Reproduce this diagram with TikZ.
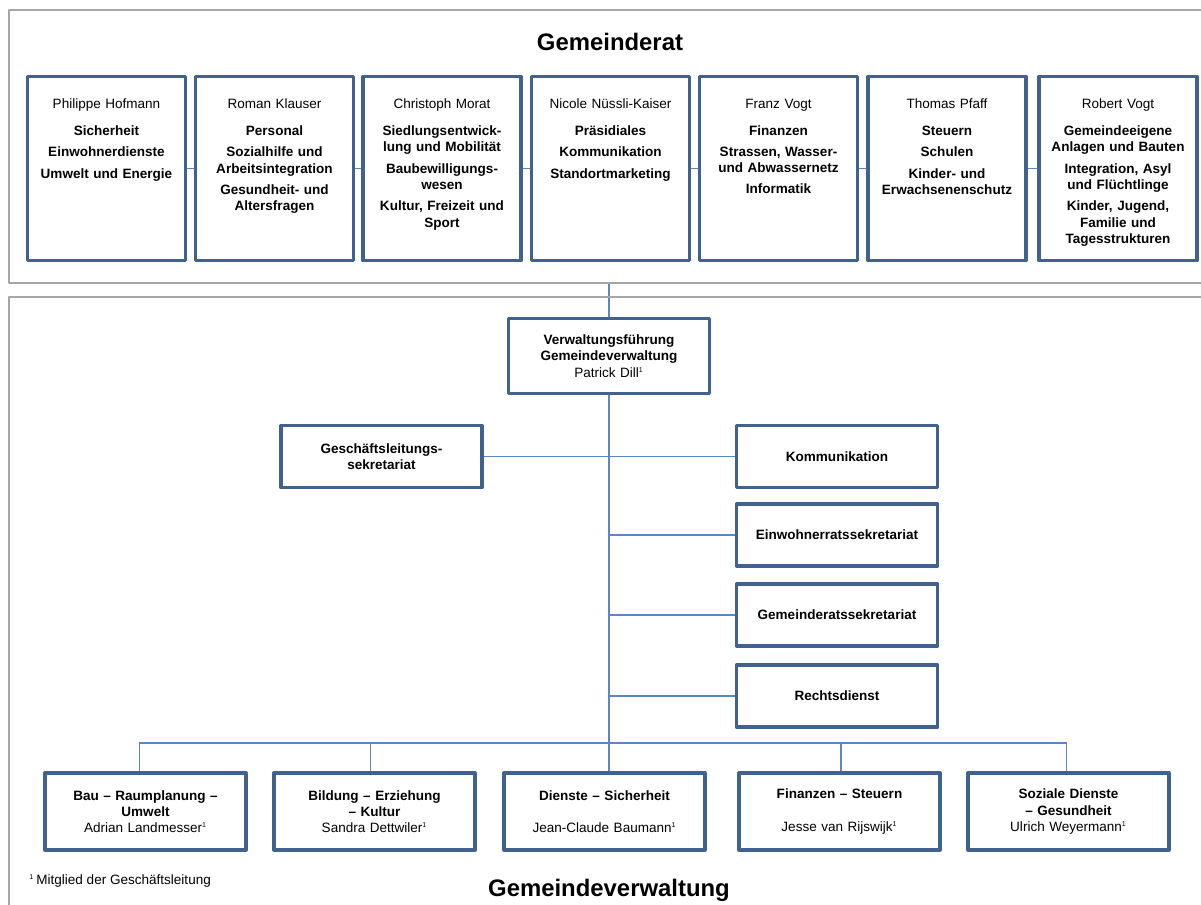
\documentclass[tikz,border=0pt]{standalone}
\usepackage{fontspec}
\setmainfont{Liberation Sans}
\usetikzlibrary{backgrounds}
\definecolor{boxblue}{HTML}{41618F}
\definecolor{linkblue}{HTML}{5B87C5}
\definecolor{framegray}{HTML}{A6A6A6}
\newcommand{\gl}{\textsuperscript{\fontsize{4}{4}\selectfont 1}}
\begin{document}
\begin{tikzpicture}[x=0.02cm,y=-0.02cm,line join=round,
		frame/.style={draw=framegray,line width=0.8pt},
		link/.style={draw=linkblue,line width=0.65pt},
		member/.style={draw=boxblue,line width=1.9pt,fill=white,minimum width=3.16cm,minimum height=3.68cm,inner sep=0pt},
		mtext/.style={anchor=north,align=center,text width=3.1cm,inner sep=0pt,font=\fontsize{7.7}{9.3}\selectfont},
		unit/.style={draw=boxblue,line width=1.9pt,fill=white,minimum width=4.02cm,minimum height=1.24cm,align=center,text width=3.9cm,inner sep=0pt,font=\fontsize{7.7}{9.2}\selectfont},
		dept/.style={unit,minimum height=1.54cm},
		head/.style={anchor=base,inner sep=0pt,font=\fontsize{13.6}{16}\selectfont\bfseries}]
				\useasboundingbox (0,0) rectangle (1201,904);
				\draw[frame] (1215,10) -- (9,10) -- (9,283) -- (1215,283);
				\draw[frame] (9,920) -- (9,297) -- (1215,297);
				\node[head] (grtitle) at (610,50) {Gemeinderat};
				\node[head] (gvtitle) at (609,896) {Gemeindeverwaltung};
				\node[member] (m1) at (106.5,168.5) {};
				\node[member] (m2) at (274.5,168.5) {};
				\node[member] (m3) at (442,168.5) {};
				\node[member] (m4) at (610.5,168.5) {};
				\node[member] (m5) at (778.5,168.5) {};
				\node[member] (m6) at (947,168.5) {};
				\node[member] (m7) at (1118,168.5) {};
				\node[mtext] (t1) at (106.5,98.5) {Philippe Hofmann\\[6pt]\textbf{Sicherheit}\\[2.8pt]\textbf{Einwohnerdienste}\\[2.8pt]\textbf{Umwelt und Energie}};
				\node[mtext] (t2) at (274.5,98.5) {Roman Klauser\\[6pt]\textbf{Personal}\\[2.8pt]\textbf{Sozialhilfe und\\Arbeitsintegration}\\[2.8pt]\textbf{Gesundheit- und\\Altersfragen}};
				\node[mtext] (t3) at (442,98.5) {Christoph Morat\\[6pt]\textbf{Siedlungsentwick-\\lung und Mobilität}\\[2.8pt]\textbf{Baubewilligungs-\\wesen}\\[2.8pt]\textbf{Kultur, Freizeit und\\Sport}};
				\node[mtext] (t4) at (610.5,98.5) {Nicole Nüssli-Kaiser\\[6pt]\textbf{Präsidiales}\\[2.8pt]\textbf{Kommunikation}\\[2.8pt]\textbf{Standortmarketing}};
				\node[mtext] (t5) at (778.5,98.5) {Franz Vogt\\[6pt]\textbf{Finanzen}\\[2.8pt]\textbf{Strassen, Wasser-\\und Abwassernetz}\\[2.8pt]\textbf{Informatik}};
				\node[mtext] (t6) at (947,98.5) {Thomas Pfaff\\[6pt]\textbf{Steuern}\\[2.8pt]\textbf{Schulen}\\[2.8pt]\textbf{Kinder- und\\Erwachsenenschutz}};
				\node[mtext] (t7) at (1118,98.5) {Robert Vogt\\[6pt]\textbf{Gemeindeeigene\\Anlagen und Bauten}\\[2.8pt]\textbf{Integration, Asyl\\und Flüchtlinge}\\[2.8pt]\textbf{Kinder, Jugend,\\Familie und\\Tagesstrukturen}};
				\coordinate (gr) at (609,283);
				\node[unit,minimum height=1.5cm] (vf) at (609,356) {\textbf{Verwaltungsführung\\Gemeindeverwaltung}\\Patrick Dill\gl};
				\node[unit] (gs) at (381.5,456.5) {\textbf{Geschäftsleitungs-\\sekretariat}};
				\node[unit] (kom) at (837,456.5) {\textbf{Kommunikation}};
				\node[unit] (ew) at (837,535) {\textbf{Einwohnerratssekretariat}};
				\node[unit] (grs) at (837,615) {\textbf{Gemeinderatssekretariat}};
				\node[unit] (rd) at (837,696) {\textbf{Rechtsdienst}};
				\coordinate (bus) at (609,743);
				\node[dept] (b1) at (145.5,811.5) {\textbf{Bau – Raumplanung –\\Umwelt}\\Adrian Landmesser\gl};
				\node[dept] (b2) at (374.5,811.5) {\textbf{Bildung – Erziehung\\– Kultur}\\Sandra Dettwiler\gl};
				\node[dept] (b3) at (604.5,811.5) {\textbf{Dienste – Sicherheit}\\\mbox{}\\Jean-Claude Baumann\gl};
				\node[dept] (b4) at (839.5,811.5) {\textbf{Finanzen – Steuern}\\\mbox{}\\Jesse van Rijswijk\gl};
				\node[dept] (b5) at (1068.5,811.5) {\textbf{Soziale Dienste\\– Gesundheit}\\Ulrich Weyermann\gl};
				\node[anchor=base west,inner sep=0pt,font=\fontsize{7.7}{9.2}\selectfont] (fn) at (29,884) {\gl\,Mitglied der Geschäftsleitung};
				\begin{scope}[on background layer]
					\draw[link] (m1.west) -- (m7.east);
					\draw[link] (gr) -- (vf.north);
					\draw[link] (vf.south) -- (bus |- b3.north);
					\draw[link] (gs.east) -- (kom.west);
					\foreach \u in {ew,grs,rd} \draw[link] (\u.west) -- (\u.west -| bus);
					\draw[link] ([xshift=-0.12cm]b1.north) |- (bus) -| ([xshift=-0.04cm]b5.north);
					\foreach \b/\s in {b2/-0.08cm,b4/0.03cm} \draw[link] ([xshift=\s]\b.north) -- ([xshift=\s]\b.north |- bus);
				\end{scope}
			\end{tikzpicture}
\end{document}
